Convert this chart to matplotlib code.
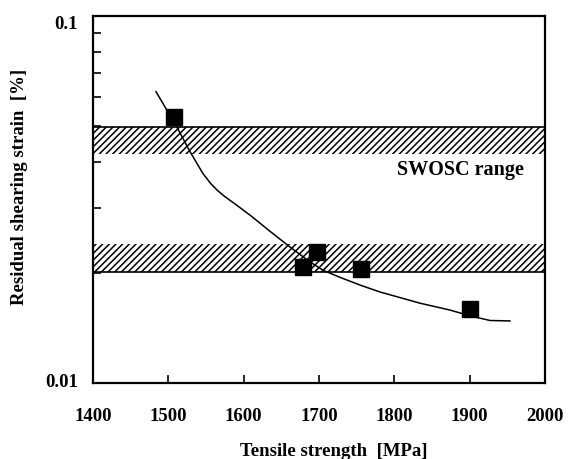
import matplotlib
matplotlib.use('Agg')
import matplotlib.pyplot as plt
from matplotlib.ticker import FixedLocator, NullFormatter

plt.rcParams['font.family'] = ['Liberation Serif', 'DejaVu Serif']
plt.rcParams['font.weight'] = 'bold'
plt.rcParams['hatch.linewidth'] = 1.1

# measured points
strength = [1507, 1679, 1698, 1756, 1901]
strain = [0.0532, 0.0207, 0.0228, 0.0204, 0.0159]

# fitted curve
curve_x = [1483.6, 1511.1, 1528.8, 1546, 1556, 1565, 1575, 1590, 1610, 1635,
           1660, 1685, 1705, 1728, 1754, 1781, 1834, 1874, 1900, 1927, 1953.5]
curve_y = [0.0622, 0.0499, 0.0427, 0.0372, 0.0350, 0.0335, 0.0322, 0.0306,
           0.0285, 0.0259, 0.0236, 0.0216, 0.0203, 0.0194, 0.0185, 0.0177,
           0.0165, 0.0158, 0.01525, 0.0148, 0.01476]

# SWOSC bands (lower, upper)
bands = [(0.042, 0.0497), (0.0201, 0.0239)]

xticks = [1400, 1500, 1600, 1700, 1800, 1900, 2000]

fig = plt.figure(figsize=(5.69, 4.59), dpi=100)
ax = fig.add_axes([0.1634, 0.1656, 0.7944, 0.7996])

for lo, hi in bands:
    ax.axhspan(lo, hi, facecolor='white', edgecolor='black', hatch='/////', linewidth=0)
ax.axhline(bands[0][1], color='black', lw=1.2)
ax.axhline(bands[1][0], color='black', lw=1.2)

ax.plot(curve_x, curve_y, color='black', lw=1.1)
ax.plot(strength, strain, 's', color='black', markersize=11, zorder=5)

ax.set_yscale('log')
ax.set_xlim(1400, 2000)
ax.set_ylim(0.01, 0.1)
ax.set_xticks(xticks)
ax.set_xticklabels([str(t) for t in xticks])
ax.set_yticks([0.01, 0.1])
ax.set_yticklabels(['0.01', '0.1'])
ax.yaxis.set_minor_locator(FixedLocator([0.02, 0.03, 0.04, 0.05, 0.06, 0.07, 0.08, 0.09]))
ax.yaxis.set_minor_formatter(NullFormatter())

for s in ax.spines.values():
    s.set_linewidth(1.6)
ax.tick_params(axis='both', which='both', direction='in', labelsize=13.5)
ax.tick_params(axis='x', which='major', length=6, width=1.2, pad=18)
ax.tick_params(axis='y', which='major', length=0, pad=11)
ax.tick_params(axis='y', which='minor', length=6, width=1.2)
for lab in ax.get_yticklabels():
    lab.set_va('top' if lab.get_text() == '0.1' else 'center')

ax.text(1888, 0.0380, 'SWOSC range', fontsize=14.5, ha='center', va='center')

fig.text(334 / 569, 1 - 451 / 459, 'Tensile strength  [MPa]', fontsize=13.5,
         ha='center', va='center')
fig.text(20 / 569, 1 - 187 / 459, 'Residual shearing strain  [%]', fontsize=13.5,
         ha='center', va='center', rotation=90)

fig.savefig('out.png', dpi=100)
